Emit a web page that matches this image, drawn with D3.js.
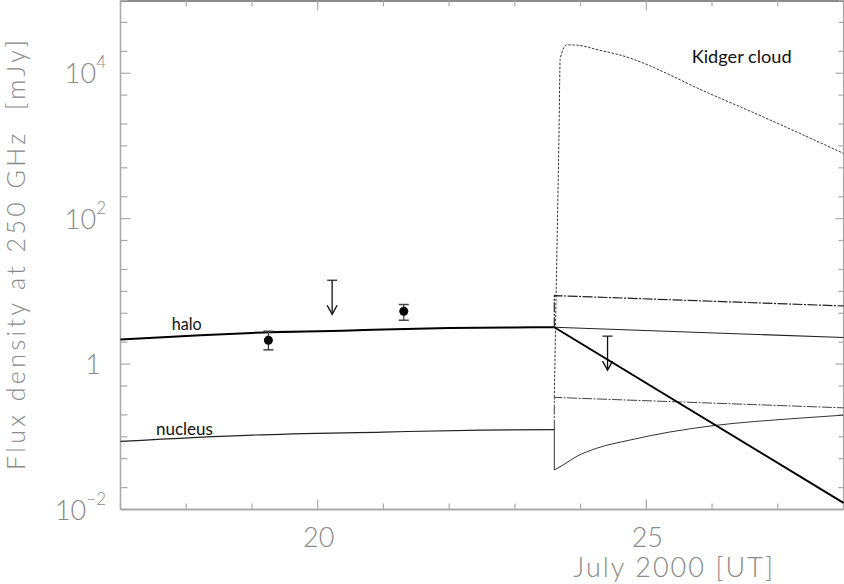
<!DOCTYPE html>
<html><head><meta charset="utf-8">
<script src="https://cdn.jsdelivr.net/npm/d3@7"></script>
<style>
body{margin:0;background:#fff;}
svg{display:block;}
text{font-family:Lato,"DejaVu Sans",sans-serif;}
</style></head>
<body><svg id="c" width="844" height="584"></svg>
<script>
// ---- data (days in July 2000 UT, flux density in mJy) ----
const haloPre = [[17,2.18],[18,2.43],[19,2.68],[20.5,2.89],[21,3.0],[22,3.14],[23,3.19],[23.6,3.21]];
const haloDecay = [[23.6,3.21],[28,0.0123]];
const haloThin = [[23.6,3.21],[28,2.32]];
const haloUpper = [[23.6,3.21],[23.6,8.75],[28,6.3]];
const nucleusPre = [[17,0.0865],[19,0.1055],[21,0.116],[22.5,0.1236],[23.6,0.1256]];
const nucleusUpper = [[23.6,0.1256],[23.6,0.348],[28,0.25]];
const nucleusLower = [[23.6,0.0349],[23.73,0.0408],[23.95,0.0543],[24.24,0.0693],[24.75,0.0901],[25.35,0.116],[26.0,0.1416],[27.28,0.179],[28,0.1985]];
const kidger = [[23.6,0.35],[23.64,36.7],[23.67,1190],[23.69,15800],[23.79,24560],[23.95,24300],[24.27,20900],[24.59,17900],[25.96,5260],[26.67,2770],[28,789]];
const detections = [{day:19.25,flux:2.13,lo:1.57,hi:2.83},{day:21.31,flux:5.33,lo:4.01,hi:6.59}];
const upperLimits = [{day:20.22,flux:14.2},{day:24.41,flux:2.42}];
const xTicks = [17,18,19,20,21,22,23,24,25,26,27,28];
const xTickLabels = [20,25];
const yMajor = [1e-2,1,1e2,1e4];
const yMinorMult = [1,2,5];
const labels = [{text:"halo",day:17.78,flux:2.9,w:30},{text:"nucleus",day:17.54,flux:0.1065,w:57},{text:"Kidger cloud",day:25.69,flux:14000,w:100}];

// ---- layout ----
const svg = d3.select("#c");
const L=120.5, R=843.5, T=0.5, B=509.5;
const x = d3.scaleLinear().domain([17,28]).range([L,R]);
const y = d3.scaleLog().domain([1e-2,1e5]).range([B,T]);
const axisCol="#aaa", txtCol="#8a8a8a";

const yTicks=[];
for(let n=-2;n<=4;n++) for(const m of yMinorMult) yTicks.push(m*Math.pow(10,n));
yTicks.push(1e5);
const isMajorY = v => yMajor.some(m=>Math.abs(Math.log10(v)-Math.log10(m))<1e-6);

const g = svg.append("g");
g.append("line").attr("x1",L).attr("x2",L).attr("y1",T).attr("y2",B).attr("stroke",axisCol).attr("stroke-width",1.6);
g.append("line").attr("x1",L).attr("x2",R).attr("y1",B).attr("y2",B).attr("stroke",axisCol).attr("stroke-width",2);
g.append("line").attr("x1",R).attr("x2",R).attr("y1",T).attr("y2",B).attr("stroke",axisCol).attr("stroke-width",1.2);
g.append("line").attr("x1",L).attr("x2",R).attr("y1",T+0.5).attr("y2",T+0.5).attr("stroke","#666").attr("stroke-width",1.5);

yTicks.forEach(v=>{
  const len = isMajorY(v)?10:7;
  g.append("line").attr("x1",L).attr("x2",L+len).attr("y1",y(v)).attr("y2",y(v)).attr("stroke",axisCol).attr("stroke-width",1.2);
  g.append("line").attr("x1",R).attr("x2",R-len+2).attr("y1",y(v)).attr("y2",y(v)).attr("stroke",axisCol).attr("stroke-width",1.2);
});
xTicks.forEach(d=>{
  const len = xTickLabels.includes(d)?10:6;
  g.append("line").attr("x1",x(d)).attr("x2",x(d)).attr("y1",B).attr("y2",B-len).attr("stroke",axisCol).attr("stroke-width",1.2);
  g.append("line").attr("x1",x(d)).attr("x2",x(d)).attr("y1",T).attr("y2",T+len).attr("stroke",axisCol).attr("stroke-width",1.2);
});
xTickLabels.forEach(d=>{
  g.append("text").attr("x",x(d)+1).attr("y",547).attr("text-anchor","middle").attr("font-size",27).attr("font-weight",300).attr("fill",txtCol).text(d);
});
yMajor.forEach(v=>{
  const e=Math.round(Math.log10(v));
  const t=g.append("text").attr("y",y(v)+10).attr("font-size",27).attr("font-weight",300).attr("fill",txtCol).attr("text-anchor","end");
  if(e===0){ t.attr("x",101).text("1"); }
  else {
    t.attr("x",106);
    t.append("tspan").text("10");
    t.append("tspan").attr("dy",-15).attr("font-size",17).text(e<0?"\u2212"+(-e):e);
  }
});
svg.append("text").attr("transform","translate(25,255) rotate(-90)").attr("text-anchor","middle")
  .attr("font-size",25).attr("font-weight",300).attr("fill",txtCol).attr("textLength",430).attr("lengthAdjust","spacing")
  .style("white-space","pre").text("Flux density at 250 GHz  [mJy]");
svg.append("text").attr("x",673).attr("y",577).attr("text-anchor","middle")
  .attr("font-size",27).attr("font-weight",300).attr("fill",txtCol).attr("textLength",200).attr("lengthAdjust","spacing")
  .text("July 2000 [UT]");

// ---- curves ----
const line = d3.line().x(d=>x(d[0])).y(d=>y(d[1]));
const smooth = d3.line().x(d=>x(d[0])).y(d=>y(d[1])).curve(d3.curveMonotoneX);
const plot = svg.append("g");
const draw=(gen,data,w,dash,col)=>plot.append("path").datum(data).attr("d",gen).attr("fill","none")
  .attr("stroke",col||"#111").attr("stroke-width",w).attr("stroke-dasharray",dash||null).attr("stroke-linejoin","round");
draw(smooth,kidger,1,"2.5,1.5","#333");
draw(line,haloUpper,1.2,"10,1.5,2,1.5","#222");
draw(line,nucleusUpper,1,"10,1.5,2,1.5","#444");
draw(line,haloThin,1.1,null,"#222");
draw(line,[nucleusPre[nucleusPre.length-1],nucleusLower[0]],1,null,"#333");
draw(smooth,nucleusLower,1,null,"#333");
draw(smooth,nucleusPre,1.1,null,"#222");
draw(smooth,haloPre,2,null,"#000");
draw(line,haloDecay,2,null,"#000");

// ---- data points ----
const pts = svg.append("g");
detections.forEach(p=>{
  const cx=x(p.day);
  pts.append("line").attr("x1",cx).attr("x2",cx).attr("y1",y(p.lo)).attr("y2",y(p.hi)).attr("stroke","#444").attr("stroke-width",1.3);
  [p.lo,p.hi].forEach(v=>pts.append("line").attr("x1",cx-5).attr("x2",cx+5).attr("y1",y(v)).attr("y2",y(v)).attr("stroke","#444").attr("stroke-width",1.5));
  pts.append("circle").attr("cx",cx).attr("cy",y(p.flux)).attr("r",4.5).attr("fill","#000");
});
upperLimits.forEach(p=>{
  const cx=x(p.day), cy=y(p.flux), tip=cy+34;
  pts.append("line").attr("x1",cx-5).attr("x2",cx+5).attr("y1",cy).attr("y2",cy).attr("stroke","#444").attr("stroke-width",1.5);
  pts.append("line").attr("x1",cx).attr("x2",cx).attr("y1",cy).attr("y2",tip).attr("stroke","#111").attr("stroke-width",1.3);
  pts.append("path").attr("d",`M${cx-5},${tip-9}L${cx},${tip}L${cx+5},${tip-9}`).attr("fill","none").attr("stroke","#111").attr("stroke-width",1.4);
});

// ---- labels ----
labels.forEach(l=>{
  svg.append("text").attr("x",x(l.day)).attr("y",y(l.flux)).attr("font-size",18).attr("fill","#111")
    .attr("textLength",l.w).attr("lengthAdjust","spacingAndGlyphs").text(l.text);
});
</script></body></html>
